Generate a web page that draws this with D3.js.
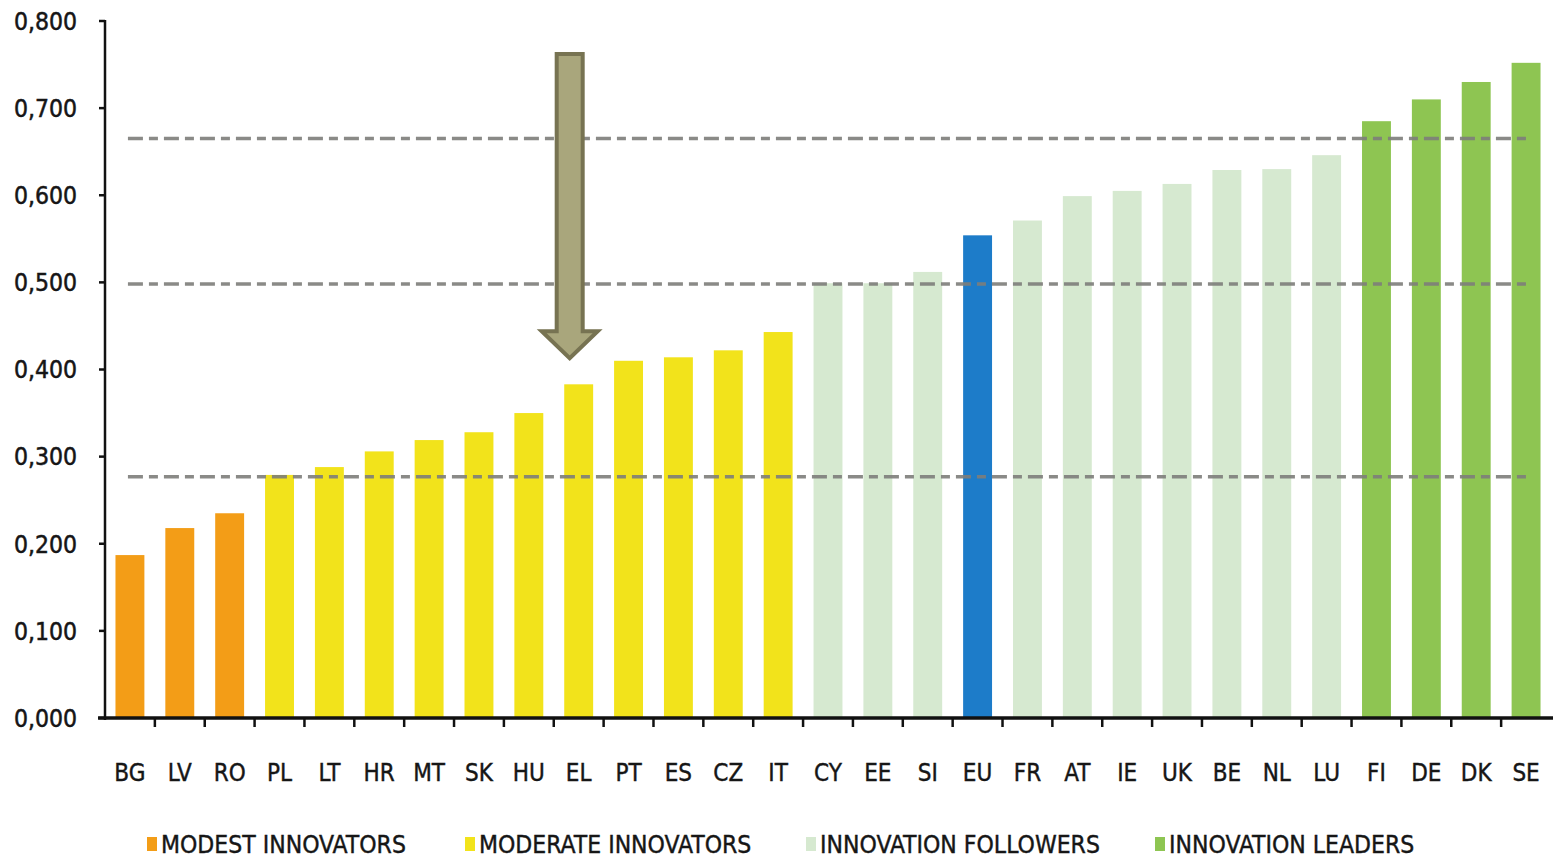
<!DOCTYPE html>
<html>
<head>
<meta charset="utf-8">
<script src="https://cdn.jsdelivr.net/npm/d3@7"></script>
<style>
  html, body { margin: 0; padding: 0; background: #fff; }
  svg { display: block; }
</style>
</head>
<body>
<svg id="chart" width="1553" height="859"></svg>
<script>
// ---- data ----
const categories = ["BG","LV","RO","PL","LT","HR","MT","SK","HU","EL","PT","ES","CZ","IT","CY","EE","SI","EU","FR","AT","IE","UK","BE","NL","LU","FI","DE","DK","SE"];
const values = [0.187,0.218,0.235,0.279,0.288,0.306,0.319,0.328,0.350,0.383,0.410,0.414,0.422,0.443,0.499,0.499,0.512,0.554,0.571,0.599,0.605,0.613,0.629,0.630,0.646,0.685,0.710,0.730,0.752];
const groups = ["modest","modest","modest",
  "moderate","moderate","moderate","moderate","moderate","moderate","moderate","moderate","moderate","moderate","moderate",
  "follower","follower","follower","eu",
  "follower","follower","follower","follower","follower","follower","follower",
  "leader","leader","leader","leader"];
const yTicks = [0,0.1,0.2,0.3,0.4,0.5,0.6,0.7,0.8];
const yTickLabels = ["0,000","0,100","0,200","0,300","0,400","0,500","0,600","0,700","0,800"];
const thresholds = [0.277, 0.498, 0.665];
const legendKeys = ["modest","moderate","follower","leader"];
const legendLabels = ["MODEST INNOVATORS","MODERATE INNOVATORS","INNOVATION FOLLOWERS","INNOVATION LEADERS"];
const arrowCategory = "EL";
const arrowTop = 0.762;
const arrowTip = 0.413;

const colors = {modest:"#F39D17", moderate:"#F2E31B", follower:"#D6E9D0", eu:"#1D7CC9", leader:"#8EC552"};

// ---- layout ----
const svg = d3.select("#chart");
const mLeft = 105, mRight = 1551, mTop = 21, mBottom = 718;

const x = d3.scaleBand().domain(categories).range([mLeft, mRight]).paddingInner(0.42).paddingOuter(0.21);
const y = d3.scaleLinear().domain([0, 0.8]).range([mBottom, mTop]);
const bw = x.bandwidth(), step = x.step();

const labelFont = "'DejaVu Sans Condensed','Liberation Sans Narrow','Liberation Sans',sans-serif";
const textColor = "#161616";

// bars
svg.append("g").selectAll("rect").data(categories).join("rect")
  .attr("x", d => x(d))
  .attr("y", (d,i) => y(values[i]))
  .attr("width", bw)
  .attr("height", (d,i) => y(0) - y(values[i]))
  .attr("fill", (d,i) => colors[groups[i]]);

// dashed threshold lines
svg.append("g").selectAll("line").data(thresholds).join("line")
  .attr("x1", x(categories[0]) + bw/2 - 2)
  .attr("x2", x(categories[categories.length-1]) + bw/2 + 4)
  .attr("y1", d => y(d)).attr("y2", d => y(d))
  .attr("stroke", "#7d7d7a").attr("stroke-width", 3.5).attr("stroke-opacity", 0.9)
  .attr("stroke-dasharray", "15,6,9,6");

// y axis
const yAxis = svg.append("g");
yAxis.append("line").attr("x1", mLeft).attr("x2", mLeft).attr("y1", y(0.8) - 1).attr("y2", y(0) + 2)
  .attr("stroke", "#111").attr("stroke-width", 2.5);
yAxis.selectAll("line.tick").data(yTicks).join("line").attr("class","tick")
  .attr("x1", mLeft - 6).attr("x2", mLeft).attr("y1", d => y(d)).attr("y2", d => y(d))
  .attr("stroke", "#111").attr("stroke-width", 2.5);
yAxis.selectAll("text").data(yTicks).join("text")
  .attr("x", 77).attr("y", d => y(d)).attr("dy", "0.36em")
  .attr("text-anchor", "end")
  .attr("font-family", labelFont).attr("font-size", 24.5).attr("fill", textColor)
  .attr("stroke", textColor).attr("stroke-width", 0.5)
  .text((d,i) => yTickLabels[i]);

// x axis
const xAxis = svg.append("g");
xAxis.append("line").attr("x1", mLeft - 7).attr("x2", 1553).attr("y1", y(0)).attr("y2", y(0))
  .attr("stroke", "#111").attr("stroke-width", 3.5);
xAxis.selectAll("line.tick").data(categories.slice(0, -1)).join("line").attr("class","tick")
  .attr("x1", d => x(d) + bw + (step - bw)/2).attr("x2", d => x(d) + bw + (step - bw)/2)
  .attr("y1", y(0)).attr("y2", y(0) + 9)
  .attr("stroke", "#111").attr("stroke-width", 2.5);
xAxis.selectAll("text").data(categories).join("text")
  .attr("x", d => x(d) + bw/2).attr("y", 781)
  .attr("text-anchor", "middle")
  .attr("font-family", labelFont).attr("font-size", 24).attr("fill", textColor)
  .attr("stroke", textColor).attr("stroke-width", 0.4)
  .text(d => d);

// legend
const legendX = [147, 465, 806, 1155];
const lg = svg.append("g").selectAll("g").data(legendKeys).join("g")
  .attr("transform", (d,i) => `translate(${legendX[i]},0)`);
lg.append("rect").attr("x", 0).attr("y", 837).attr("width", 10).attr("height", 14)
  .attr("fill", d => colors[d]);
lg.append("text").attr("x", 14).attr("y", 853)
  .attr("font-family", labelFont).attr("font-size", 24.5).attr("fill", textColor)
  .attr("stroke", textColor).attr("stroke-width", 0.4)
  .text((d,i) => legendLabels[i]);

// annotation arrow
const ax = x(arrowCategory) + bw/2 - 9;
const yTop = y(arrowTop), yTip = y(arrowTip);
const shaftHalf = 13, headHalf = 28, headH = 27;
const pts = [
  [ax - shaftHalf, yTop], [ax + shaftHalf, yTop], [ax + shaftHalf, yTip - headH],
  [ax + headHalf, yTip - headH], [ax, yTip], [ax - headHalf, yTip - headH],
  [ax - shaftHalf, yTip - headH]
];
svg.append("path").attr("d", d3.line()(pts) + "Z")
  .attr("fill", "#A9A67C").attr("stroke", "#777352").attr("stroke-width", 4).attr("stroke-linejoin", "miter");
</script>
</body>
</html>
